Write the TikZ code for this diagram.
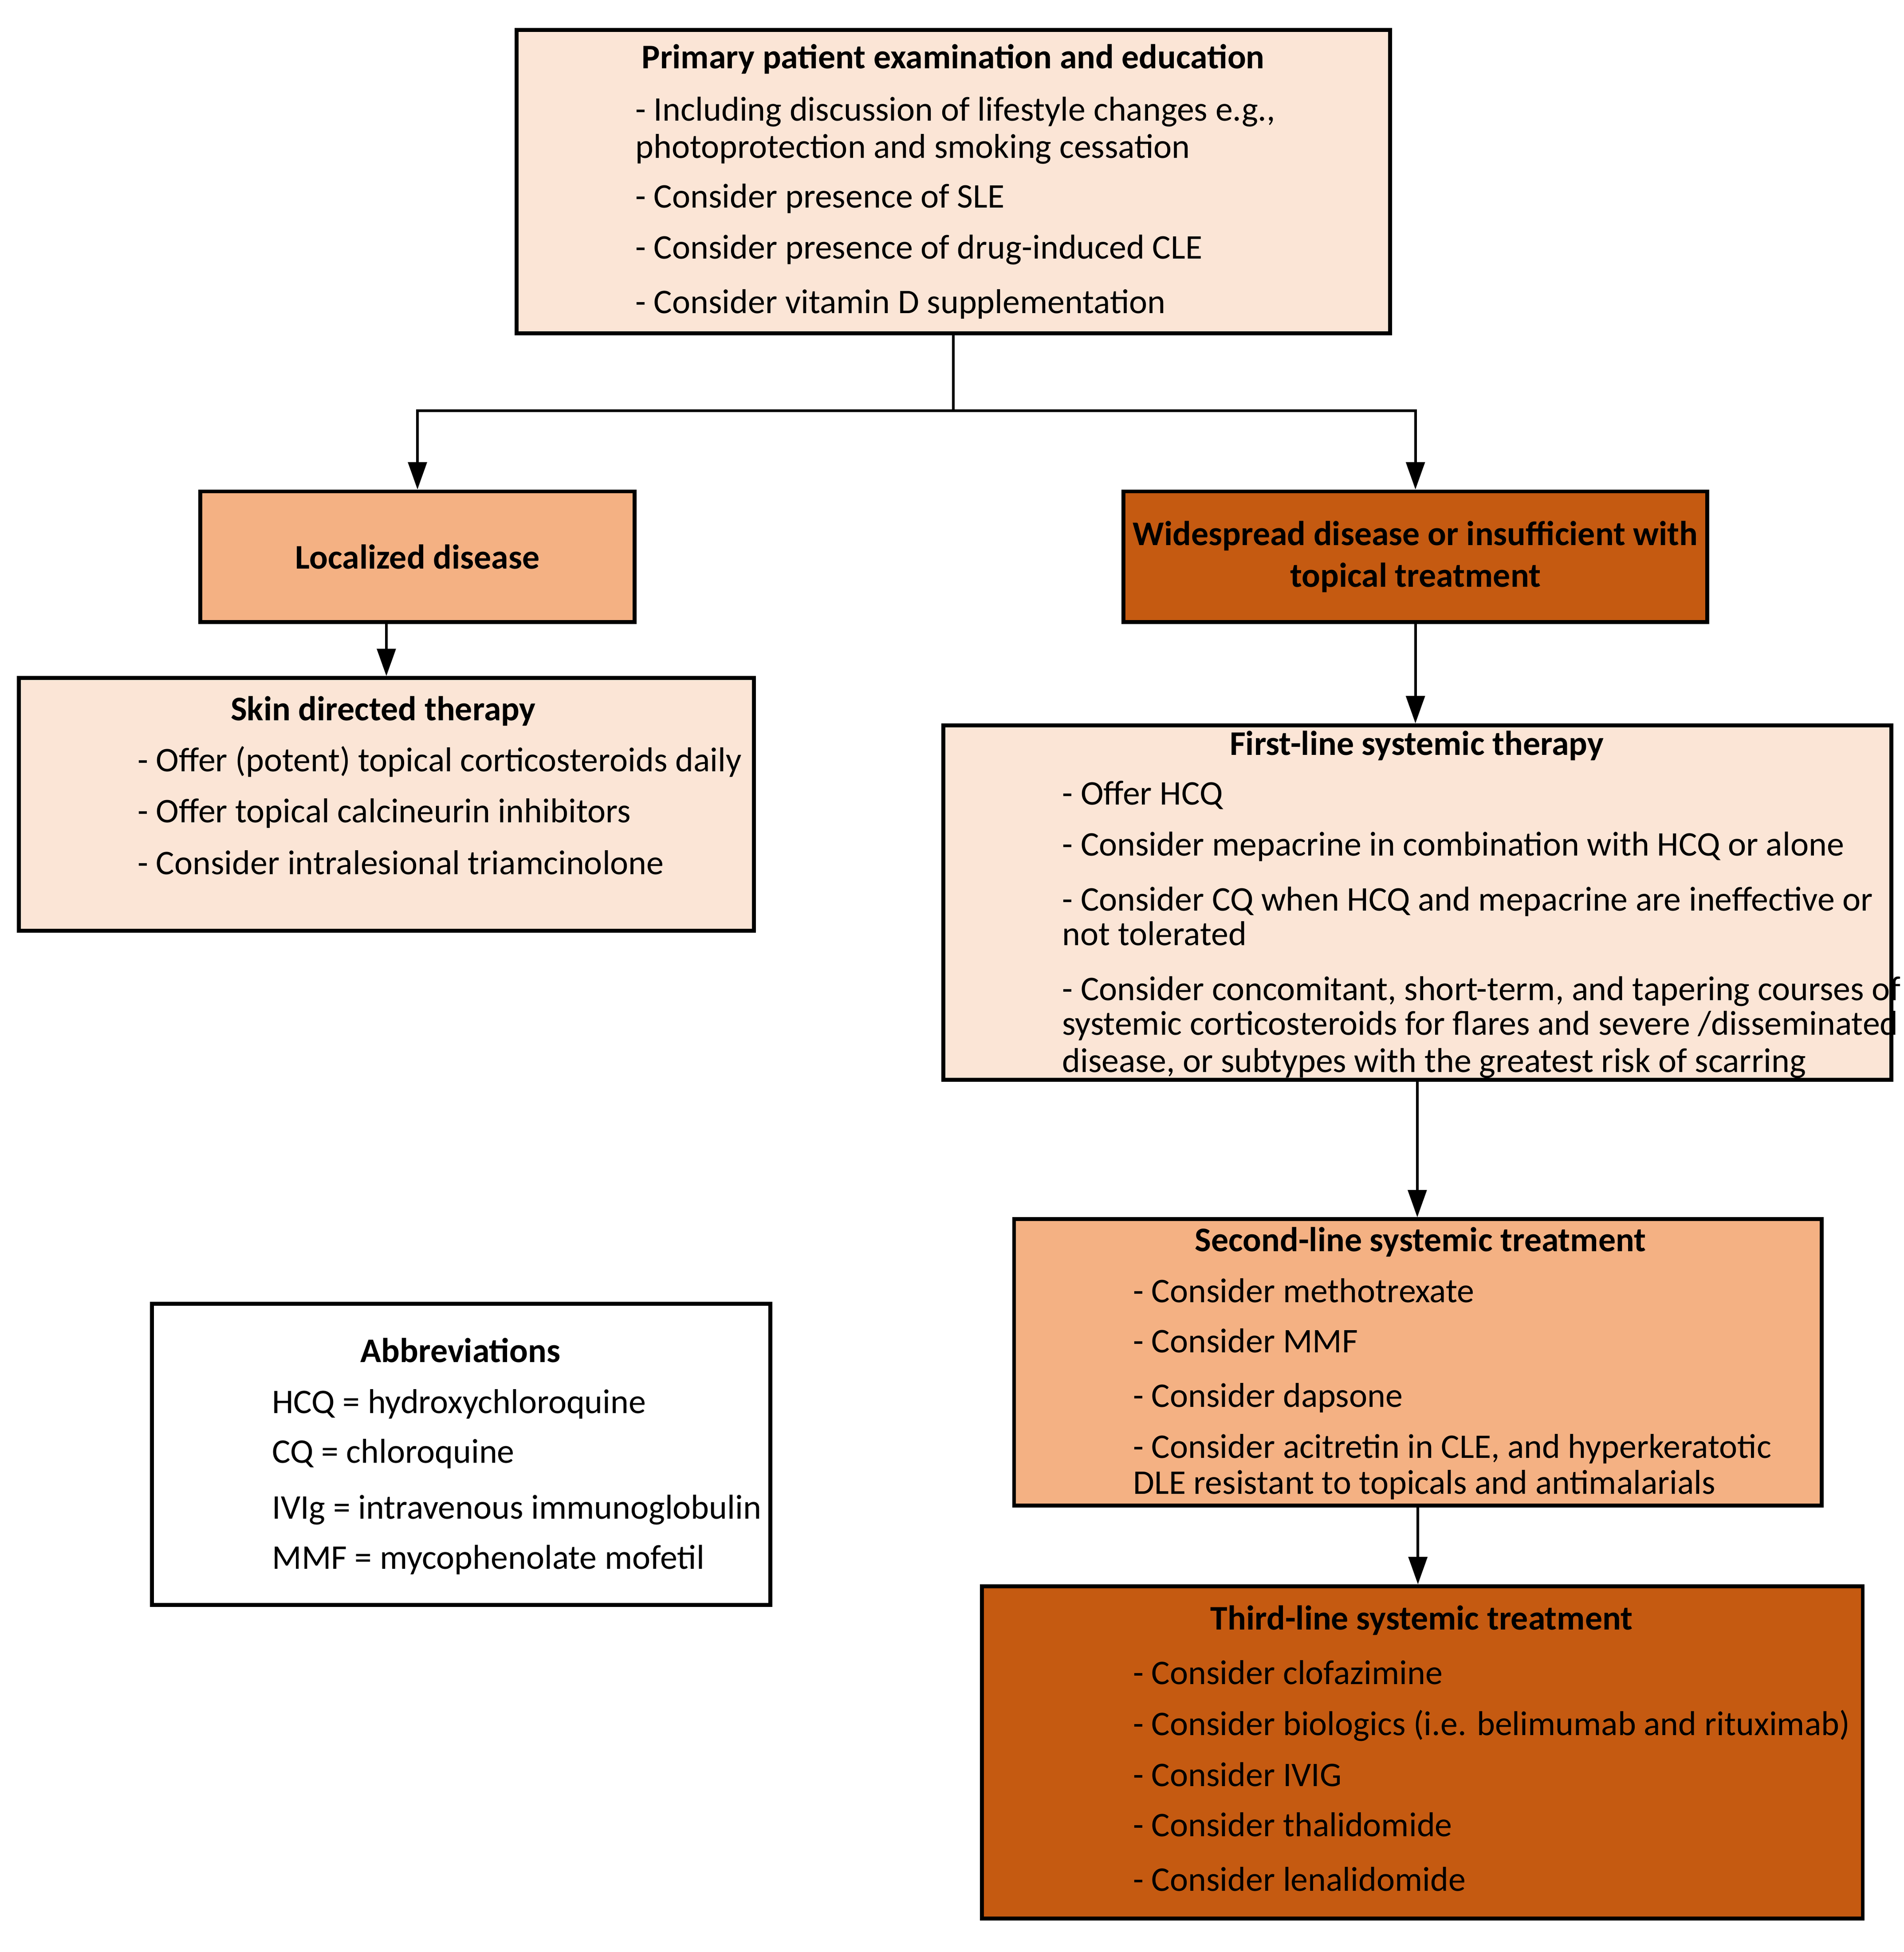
\documentclass[tikz,border=0pt]{standalone}
\usepackage{fontspec}
\setmainfont{Carlito}
\usepackage{tikz}
\usetikzlibrary{positioning}
\usetikzlibrary{arrows.meta}
\definecolor{peachl}{HTML}{FBE5D6}
\definecolor{peachm}{HTML}{F4B183}
\definecolor{rustd}{HTML}{C55A11}
\tikzset{
    boxl/.style = {rectangle, line width=0.9pt, draw=black, fill=peachl, inner sep=0pt},
    boxm/.style = {rectangle, line width=0.9pt, draw=black, fill=peachm, inner sep=0pt, align=center, font=\bfseries},
    boxd/.style = {rectangle, line width=0.9pt, draw=black, fill=rustd, inner sep=0pt, align=center, font=\bfseries},
    boxw/.style = {rectangle, line width=0.9pt, draw=black, fill=white, inner sep=0pt},
    ttl/.style = {anchor=base, inner sep=0pt, yshift=-0.03cm, font=\bfseries},
    itm/.style = {anchor=base west, inner sep=0pt, yshift=-0.03cm},
    edgen/.style = {-{Triangle[length=0.22cm,width=0.15cm]},line width=0.6pt},
    edgel/.style = {line width=0.6pt},
    every picture/.style={font issue=\fontsize{7.9}{9.5}},
    font issue/.style={execute at begin picture={#1\selectfont}
  }
}
\begin{document}
\begin{tikzpicture}
%
\path[use as bounding box] (0,0) rectangle (15.30,-15.69);
%
% boxes
\node[boxl,minimum width=7.02cm,minimum height=2.44cm] at (7.66,-1.46) (prim) {};
\node[boxm,minimum width=3.49cm,minimum height=1.05cm] at (3.355,-4.475) (loc) {Localized disease};
\node[boxd,minimum width=4.69cm,minimum height=1.05cm] at (11.375,-4.475) (wide) {Widespread disease or insufficient with\\topical treatment};
\node[boxl,minimum width=5.91cm,minimum height=2.03cm] at (3.105,-6.465) (skin) {};
\node[boxl,minimum width=7.62cm,minimum height=2.85cm] at (11.39,-7.255) (first) {};
\node[boxm,minimum width=6.49cm,minimum height=2.30cm] at (11.395,-10.95) (second) {};
\node[boxd,minimum width=7.08cm,minimum height=2.67cm] at (11.43,-14.085) (third) {};
\node[boxw,minimum width=4.97cm,minimum height=2.42cm] at (3.705,-11.69) (abbr) {};
%
% primary
\node[ttl] at (7.66,-0.52) (prim-t) {Primary patient examination and education};
\node[itm] at (5.10,-0.94) (prim-1) {- Including discussion of lifestyle changes e.g.,};
\node[itm] at (5.10,-1.24) (prim-1b) {photoprotection and smoking cessation};
\node[itm] at (5.10,-1.64) (prim-2) {- Consider presence of SLE};
\node[itm] at (5.10,-2.05) (prim-3) {- Consider presence of drug-induced CLE};
\node[itm] at (5.10,-2.49) (prim-4) {- Consider vitamin D supplementation};
%
% skin directed
\node[ttl] at (3.08,-5.76) (skin-t) {Skin directed therapy};
\node[itm] at (1.10,-6.17) (skin-1) {- Offer (potent) topical corticosteroids daily};
\node[itm] at (1.10,-6.58) (skin-2) {- Offer topical calcineurin inhibitors};
\node[itm] at (1.10,-7.00) (skin-3) {- Consider intralesional triamcinolone};
%
% first line
\node[ttl] at (11.385,-6.04) (first-t) {First-line systemic therapy};
\node[itm] at (8.53,-6.44) (first-1) {- Offer HCQ};
\node[itm] at (8.53,-6.85) (first-2) {- Consider mepacrine in combination with HCQ or alone};
\node[itm] at (8.53,-7.29) (first-3) {- Consider CQ when HCQ and mepacrine are ineffective or};
\node[itm] at (8.53,-7.57) (first-3b) {not tolerated};
\node[itm] at (8.53,-8.01) (first-4) {- Consider concomitant, short-term, and tapering courses of};
\node[itm] at (8.53,-8.29) (first-4b) {systemic corticosteroids for flares and severe /disseminated};
\node[itm] at (8.53,-8.59) (first-4c) {disease, or subtypes with the greatest risk of scarring};
%
% second line
\node[ttl] at (11.415,-10.03) (second-t) {Second-line systemic treatment};
\node[itm] at (9.10,-10.44) (second-1) {- Consider methotrexate};
\node[itm] at (9.10,-10.84) (second-2) {- Consider MMF};
\node[itm] at (9.10,-11.28) (second-3) {- Consider dapsone};
\node[itm] at (9.10,-11.69) (second-4) {- Consider acitretin in CLE, and hyperkeratotic};
\node[itm] at (9.10,-11.98) (second-4b) {DLE resistant to topicals and antimalarials};
%
% third line
\node[ttl] at (11.425,-13.07) (third-t) {Third-line systemic treatment};
\node[itm] at (9.10,-13.51) (third-1) {- Consider clofazimine};
\node[itm] at (9.10,-13.92) (third-2) {- Consider biologics (i.e. belimumab and rituximab)};
\node[itm] at (9.10,-14.33) (third-3) {- Consider IVIG};
\node[itm] at (9.10,-14.73) (third-4) {- Consider thalidomide};
\node[itm] at (9.10,-15.17) (third-5) {- Consider lenalidomide};
%
% abbreviations
\node[ttl] at (3.70,-10.92) (abbr-t) {Abbreviations};
\node[itm] at (2.18,-11.33) (abbr-1) {HCQ = hydroxychloroquine};
\node[itm] at (2.18,-11.73) (abbr-2) {CQ = chloroquine};
\node[itm] at (2.18,-12.18) (abbr-3) {IVIg = intravenous immunoglobulin};
\node[itm] at (2.18,-12.58) (abbr-4) {MMF = mycophenolate mofetil};
%
% connectors
\coordinate (split) at (7.66,-3.30);
\draw[edgel] (prim.south) -- (split);
\draw[edgen] (split) -| (loc.north);
\draw[edgen] (split) -| (wide.north);
\draw[edgen] (loc.south -| skin.north) -- (skin.north);
\draw[edgen] (wide.south) -- (wide.south |- first.north);
\draw[edgen] (first.south) -- (first.south |- second.north);
\draw[edgen] (second.south) -- (second.south |- third.north);

\end{tikzpicture}
\end{document}
